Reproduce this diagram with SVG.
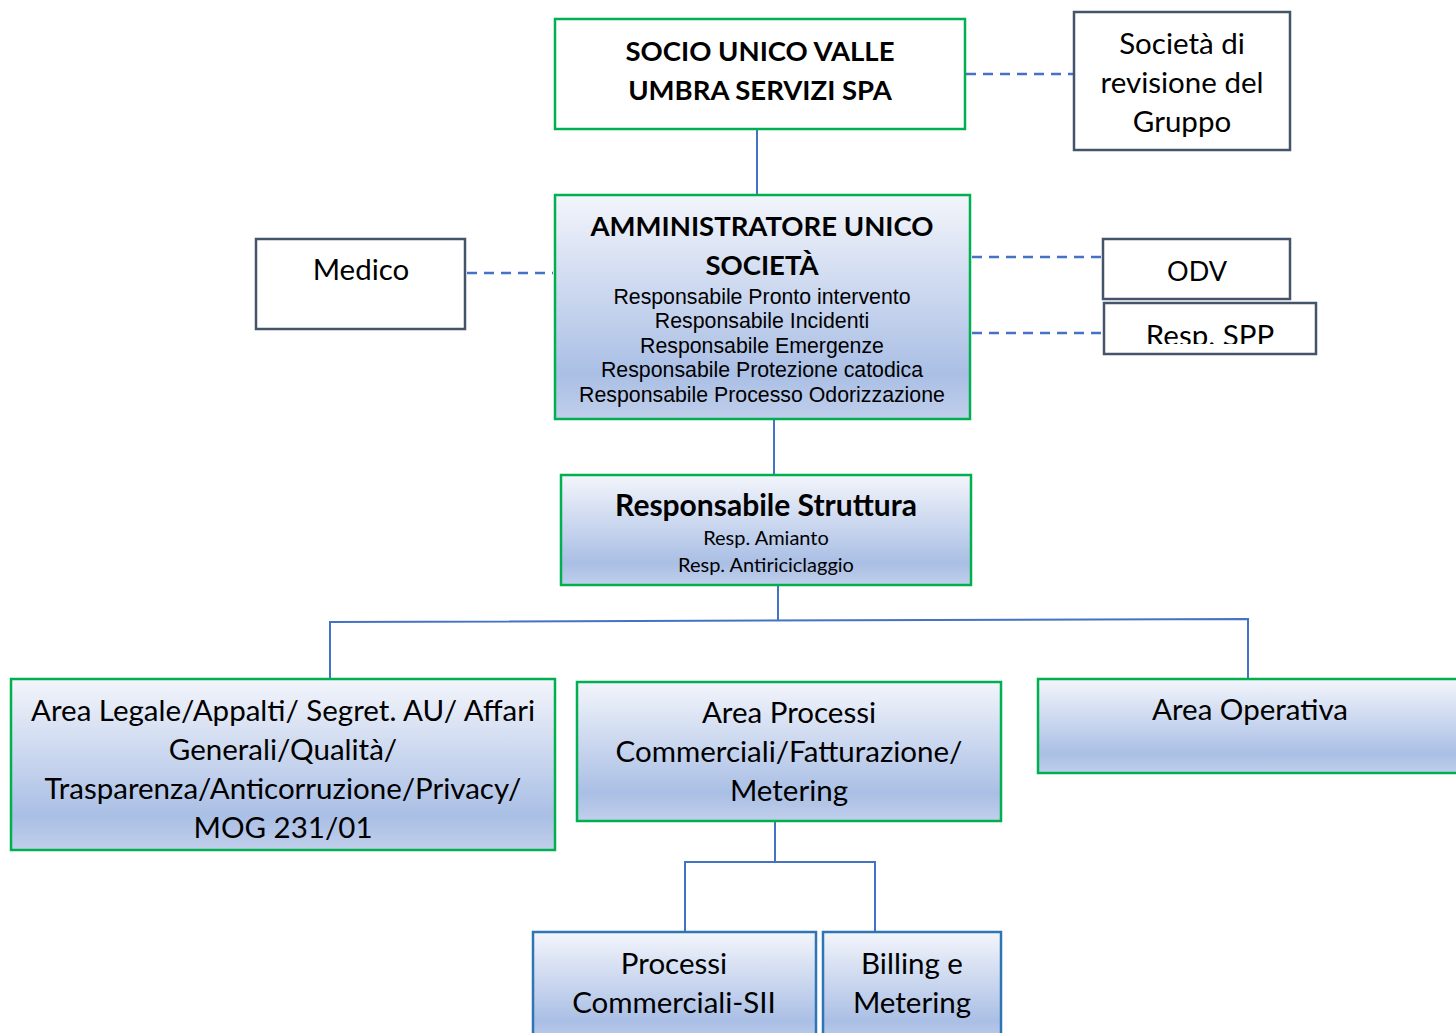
<svg xmlns="http://www.w3.org/2000/svg" width="1456" height="1033" viewBox="0 0 1456 1033">
  <defs>
    <linearGradient id="fillBlue" x1="0" y1="0" x2="0" y2="1">
      <stop offset="0" stop-color="#f3f5fb"/>
      <stop offset="0.8" stop-color="#aabfe5"/>
      <stop offset="1" stop-color="#c0cfeb"/>
    </linearGradient>
    <clipPath id="clipSpp">
      <rect x="1105" y="304" width="210" height="40"/>
    </clipPath>
  </defs>
  <style>
    .white { fill: #ffffff; stroke: #44546a; stroke-width: 2.5; }
    .green { fill: url(#fillBlue); stroke: #00b050; stroke-width: 2.5; }
    .greenW { fill: #ffffff; stroke: #00b050; stroke-width: 2.5; }
    .blue { fill: url(#fillBlue); stroke: #2e75b6; stroke-width: 2.5; }
    .cal { font-family: Lato, "Open Sans", "Liberation Sans", sans-serif; fill: #000; text-anchor: middle; font-size: 29.5px; }
    .bold { font-weight: bold; font-size: 27.5px; }
    .small { font-size: 20px; }
    .ari { font-family: "Liberation Sans", Arial, sans-serif; fill: #000; text-anchor: middle; font-size: 21.3px; }
    .solid { fill: none; stroke: #4472c4; stroke-width: 2; }
    .dash { fill: none; stroke: #4472c4; stroke-width: 2.5; stroke-dasharray: 10 7; }
  </style>

  <g id="connectors">
    <line class="dash" x1="966" y1="74" x2="1073" y2="74"/>
    <line class="dash" x1="467" y1="273" x2="553" y2="273"/>
    <line class="dash" x1="972" y1="257" x2="1101" y2="257"/>
    <line class="dash" x1="972" y1="333" x2="1103" y2="333"/>
    <line class="solid" x1="757" y1="130" x2="757" y2="200"/>
    <line class="solid" x1="774" y1="420" x2="774" y2="474"/>
    <polyline class="solid" points="778,586 778,620"/>
    <polyline class="solid" points="330,679 330,622 1248,619 1248,679"/>
    <polyline class="solid" points="775,822 775,862"/>
    <polyline class="solid" points="685,932 685,862 875,862 875,932"/>
  </g>

  <g id="socio">
    <rect class="greenW" x="555" y="19" width="410" height="110"/>
    <text class="cal bold" x="760" y="61">SOCIO UNICO VALLE</text>
    <text class="cal bold" x="760" y="100">UMBRA SERVIZI SPA</text>
  </g>

  <g id="revisione">
    <rect class="white" x="1074" y="12" width="216" height="138"/>
    <text class="cal" x="1182" y="54">Società di</text>
    <text class="cal" x="1182" y="93">revisione del</text>
    <text class="cal" x="1182" y="132">Gruppo</text>
  </g>

  <g id="amministratore">
    <rect class="green" x="555" y="195" width="415" height="224"/>
    <text class="cal bold" x="762" y="236">AMMINISTRATORE UNICO</text>
    <text class="cal bold" x="762" y="275">SOCIETÀ</text>
    <text class="ari" x="762" y="304">Responsabile Pronto intervento</text>
    <text class="ari" x="762" y="328">Responsabile Incidenti</text>
    <text class="ari" x="762" y="353">Responsabile Emergenze</text>
    <text class="ari" x="762" y="377">Responsabile Protezione catodica</text>
    <text class="ari" x="762" y="402">Responsabile Processo Odorizzazione</text>
  </g>

  <g id="medico">
    <rect class="white" x="256" y="239" width="209" height="90"/>
    <text class="cal" x="361" y="280">Medico</text>
  </g>

  <g id="odv">
    <rect class="white" x="1103" y="239" width="187" height="60"/>
    <text class="cal" x="1197" y="281" style="font-size:27px">ODV</text>
  </g>

  <g id="spp">
    <rect class="white" x="1104" y="303" width="212" height="51"/>
    <text class="cal" x="1210" y="346" clip-path="url(#clipSpp)">Resp. SPP</text>
  </g>

  <g id="struttura">
    <rect class="green" x="561" y="475" width="410" height="110"/>
    <text class="cal bold" x="766" y="516" style="font-size:30px">Responsabile Struttura</text>
    <text class="cal small" x="766" y="545">Resp. Amianto</text>
    <text class="cal small" x="766" y="572">Resp. Antiriciclaggio</text>
  </g>

  <g id="legale">
    <rect class="green" x="11" y="679" width="544" height="171"/>
    <text class="cal" x="283" y="721">Area Legale/Appalti/ Segret. AU/ Affari</text>
    <text class="cal" x="283" y="760">Generali/Qualità/</text>
    <text class="cal" x="283" y="799">Trasparenza/Anticorruzione/Privacy/</text>
    <text class="cal" x="283" y="838">MOG 231/01</text>
  </g>

  <g id="commerciali">
    <rect class="green" x="577" y="682" width="424" height="139"/>
    <text class="cal" x="789" y="723">Area Processi</text>
    <text class="cal" x="789" y="762">Commerciali/Fatturazione/</text>
    <text class="cal" x="789" y="801">Metering</text>
  </g>

  <g id="operativa">
    <rect class="green" x="1038" y="679" width="430" height="94"/>
    <text class="cal" x="1250" y="720">Area Operativa</text>
  </g>

  <g id="processi-sii">
    <rect class="blue" x="533" y="932" width="283" height="112"/>
    <text class="cal" x="674" y="974">Processi</text>
    <text class="cal" x="674" y="1013">Commerciali-SII</text>
  </g>

  <g id="billing">
    <rect class="blue" x="823" y="932" width="178" height="112"/>
    <text class="cal" x="912" y="974">Billing e</text>
    <text class="cal" x="912" y="1013">Metering</text>
  </g>
</svg>
